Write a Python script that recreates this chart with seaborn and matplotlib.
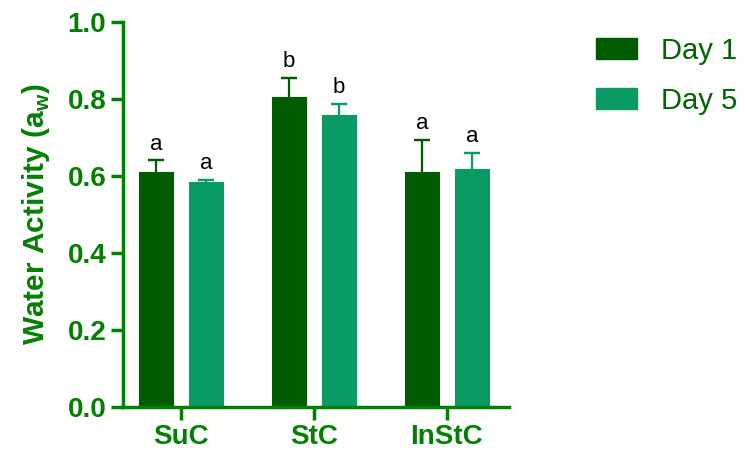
import matplotlib
matplotlib.use("Agg")
import matplotlib.pyplot as plt
import seaborn as sns
import pandas as pd
import numpy as np

categories = ["SuC", "StC", "InStC"]
days = ["Day 1", "Day 5"]
day1_mean = [0.611, 0.805, 0.611]
day5_mean = [0.584, 0.758, 0.617]
day1_err = [0.030, 0.050, 0.083]
day5_err = [0.006, 0.030, 0.043]
day1_letters = ["a", "b", "a"]
day5_letters = ["a", "b", "a"]
yticks = [0.0, 0.2, 0.4, 0.6, 0.8, 1.0]

sns.set_theme(style="white")
plt.rcParams["font.family"] = ["Liberation Sans", "DejaVu Sans"]
plt.rcParams["mathtext.fontset"] = "custom"
plt.rcParams["mathtext.bf"] = "Liberation Sans:bold"
plt.rcParams["mathtext.rm"] = "Liberation Sans"

axis_green = "#008000"
c1 = "#005a00"
c5 = "#0a9a64"

df = pd.DataFrame({
    "Category": categories * 2,
    "Day": [days[0]] * 3 + [days[1]] * 3,
    "Value": day1_mean + day5_mean,
})

fig = plt.figure(figsize=(7.45, 4.57), dpi=100)
ax = fig.add_axes([0.165, 0.109, 0.518, 0.843])

sns.barplot(data=df, x="Category", y="Value", hue="Day", order=categories,
            hue_order=days, palette=[c1, c5], width=0.752, gap=0.32,
            errorbar=None, saturation=1, ax=ax, linewidth=0.8)

errs = [day1_err, day5_err]
means = [day1_mean, day5_mean]
letters = [day1_letters, day5_letters]
cols = [c1, c5]
bar_containers = list(ax.containers)
for i, cont in enumerate(bar_containers):
    xs = [p.get_x() + p.get_width() / 2 for p in cont.patches]
    for p in cont.patches:
        p.set_edgecolor(cols[i])
    tops = [m + e for m, e in zip(means[i], errs[i])]
    ax.vlines(xs, means[i], tops, colors=cols[i], linewidth=1.6, zorder=1)
    ax.errorbar(xs, tops, yerr=0, fmt="none", ecolor=cols[i],
                elinewidth=1.6, capsize=6, capthick=1.6, zorder=1)
    for x, m, e, t in zip(xs, means[i], errs[i], letters[i]):
        ax.annotate(t, (x, m + e), xytext=(0, 4), textcoords="offset points",
                    ha="center", va="bottom", fontsize=16, color="black")

ax.set_ylim(0, 1.0)
ax.set_xlim(-0.436, 2.466)
ax.set_yticks(yticks)
ax.set_yticklabels([f"{v:.1f}" for v in yticks])
ax.set_xlabel("")
ax.set_ylabel(r"Water Activity (a$_\mathbf{w}$)", fontsize=21.5, fontweight="bold",
              color=axis_green, labelpad=11)

for s in ["top", "right"]:
    ax.spines[s].set_visible(False)
for s in ["left", "bottom"]:
    ax.spines[s].set_color(axis_green)
    ax.spines[s].set_linewidth(2.5)
ax.tick_params(axis="both", colors=axis_green, width=2.5, length=9,
               direction="out", left=True, bottom=True, labelsize=20, pad=3)
for lab in ax.get_xticklabels() + ax.get_yticklabels():
    lab.set_fontweight("bold")
    lab.set_color(axis_green)

ax.get_legend().remove()
handles = [plt.Rectangle((0, 0), 1, 1, facecolor=c1, edgecolor=c1),
           plt.Rectangle((0, 0), 1, 1, facecolor=c5, edgecolor=c5)]
leg = fig.legend(handles, days, loc="upper left", bbox_to_anchor=(0.785, 0.945),
                 frameon=False, fontsize=21, handlelength=1.4, handleheight=0.7,
                 handletextpad=0.8, labelspacing=0.75, borderaxespad=0)
for t in leg.get_texts():
    t.set_color("#006400")

fig.savefig("out.png", dpi=100)
